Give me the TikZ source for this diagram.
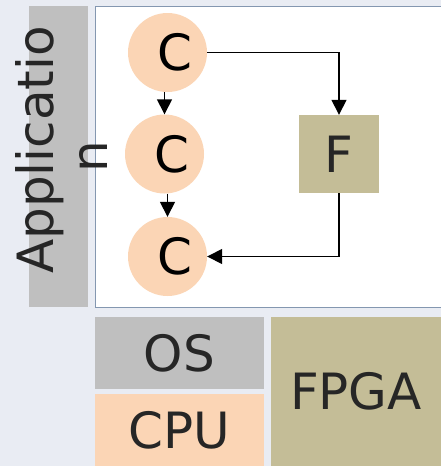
\documentclass[tikz,border=0pt]{standalone}
\usepackage{fontspec}
\setmainfont{DejaVu Sans}
\usetikzlibrary{arrows.meta}
\definecolor{bgblue}{HTML}{E9ECF3}
\definecolor{appgray}{HTML}{BFBFBF}
\definecolor{cpupeach}{HTML}{FBD5B5}
\definecolor{fpgakhaki}{HTML}{C4BD97}
\definecolor{framegray}{HTML}{8497B0}
\definecolor{textdark}{HTML}{262626}

\begin{document}
\begin{tikzpicture}[x=1pt,y=-1pt,>={Triangle[length=15pt,width=15pt]},
  every node/.style={font=\fontsize{50}{55}\selectfont,inner sep=0pt},
  task/.style={circle,fill=cpupeach,text=black,minimum size=79pt,
    execute at begin node=\hspace{14pt}},
  layer/.style={text=textdark},
  link/.style={->,line width=1.5pt}]
\clip (0,0) rectangle (441,466);
\fill[bgblue] (0,0) rectangle (441,466);
% application area
\fill[appgray] (29,6) rectangle (88,307);
\draw[fill=white,draw=framegray,line width=1pt] (95,6) rectangle (460,307);
\node[layer,rotate=90,anchor=base] (app) at (53,150) {Applicatio};
\node[layer,rotate=90,anchor=base] (appn) at (107,157) {n};
\node[task] (c1) at (167.5,52.5) {C};
\node[task] (c2) at (164.5,154) {C};
\node[task] (c3) at (167.5,256.5) {C};
\node[layer,fill=fpgakhaki,minimum width=80pt,minimum height=78pt] (f) at (339,154) {F};
\draw[link] (c2 |- c1.south) -- (c2.north);
\draw[link] (c3 |- c2.south) -- (c3.north);
\draw[link] (c1.east) -| (f.north);
\draw[link] (f.south) |- (c3.east);
% platform
\node[layer,fill=appgray,minimum width=169pt,minimum height=72pt] (os) at (179.5,353) {OS};
\node[layer,fill=cpupeach,minimum width=169pt,minimum height=72pt] (cpu) at (179.5,430) {CPU};
\node[layer,fill=fpgakhaki,minimum width=170pt,minimum height=149pt] (fpga) at (356,391.5) {FPGA};
\end{tikzpicture}
\end{document}
